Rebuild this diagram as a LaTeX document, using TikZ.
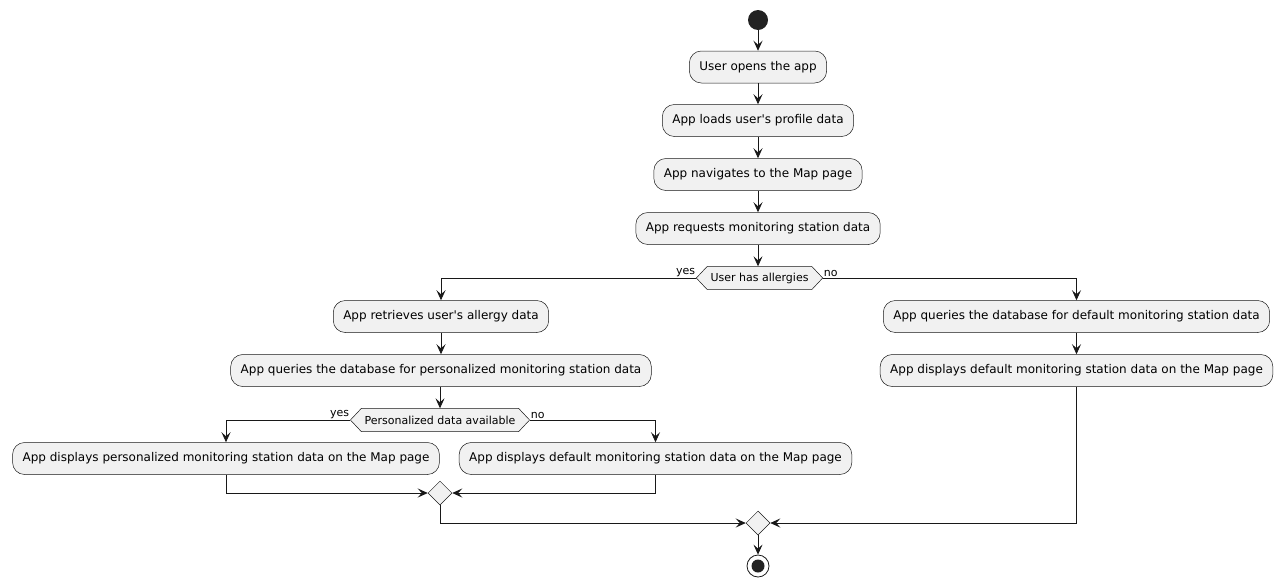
\documentclass[tikz,border=0pt]{standalone}
\usepackage{fontspec}
\setmainfont{DejaVu Sans}[Ligatures=TeXOff]
\usetikzlibrary{arrows.meta,shapes.geometric}
\definecolor{boxfill}{HTML}{F1F1F1}
\definecolor{lineclr}{HTML}{181818}
\definecolor{dotclr}{HTML}{222222}
\begin{document}
\begin{tikzpicture}[x=1pt,y=-1pt,
  act/.style={draw=lineclr,fill=boxfill,rounded corners=12pt,minimum height=32pt,inner xsep=10pt,inner ysep=0pt,font=\fontsize{12}{14}\selectfont,line width=0.5pt},
  dec/.style={minimum height=23pt,inner xsep=14pt,inner ysep=0pt,font=\fontsize{11}{13}\selectfont},
  hexa/.style={draw=lineclr,fill=boxfill,line width=0.5pt},
  merge/.style={draw=lineclr,fill=boxfill,diamond,minimum width=24pt,minimum height=24pt,inner sep=0pt,line width=0.5pt},
  lbl/.style={font=\fontsize{11}{13}\selectfont,inner sep=1pt},
  arr/.style={draw=lineclr,line width=0.8pt,-{Stealth[length=10pt,width=9pt,inset=4pt]}},
  ln/.style={draw=lineclr,line width=0.8pt}]
\useasboundingbox (0,0) rectangle (1282,587);
\node[circle,fill=dotclr,minimum size=20pt,inner sep=0pt] (start) at (758,20) {};
\node[act] (b1) at (758,67) {User opens the app};
\node[act] (b2) at (758,120.5) {App loads user's profile data};
\node[act] (b3) at (758,174.5) {App navigates to the Map page};
\node[act] (b4) at (758,228.5) {App requests monitoring station data};
\node[dec] (d1) at (759.5,278) {User has allergies};
\draw[hexa] (d1.west) -- ([xshift=11pt]d1.north west) -- ([xshift=-11pt]d1.north east) -- (d1.east) -- ([xshift=-11pt]d1.south east) -- ([xshift=11pt]d1.south west) -- cycle;
\node at (d1) [dec] {User has allergies};
\node[act] (b5) at (441,316.5) {App retrieves user's allergy data};
\node[act] (b6) at (441,370.5) {App queries the database for personalized monitoring station data};
\node[dec] (d2) at (440,420) {Personalized data available};
\draw[hexa] (d2.west) -- ([xshift=11pt]d2.north west) -- ([xshift=-11pt]d2.north east) -- (d2.east) -- ([xshift=-11pt]d2.south east) -- ([xshift=11pt]d2.south west) -- cycle;
\node at (d2) [dec] {Personalized data available};
\node[act] (b7) at (226,458.5) {App displays personalized monitoring station data on the Map page};
\node[act] (b8) at (655.5,458.5) {App displays default monitoring station data on the Map page};
\node[act] (b9) at (1076.5,316.5) {App queries the database for default monitoring station data};
\node[act] (b10) at (1076.5,370.5) {App displays default monitoring station data on the Map page};
\node[merge] (m2) at (440,493) {};
\node[merge] (m1) at (758,523) {};
\node[circle,draw=lineclr,line width=0.8pt,minimum size=22pt,inner sep=0pt] (end) at (758,566) {};
\node[circle,fill=dotclr,minimum size=13pt,inner sep=0pt] at (end) {};
\node[lbl,anchor=south east] at (d1.west) {yes};
\node[lbl,anchor=south west] at (d1.east) {no};
\node[lbl,anchor=south east] at (d2.west) {yes};
\node[lbl,anchor=south west] at (d2.east) {no};
\draw[arr] (start) -- (b1);
\draw[arr] (b1) -- (b2);
\draw[arr] (b2) -- (b3);
\draw[arr] (b3) -- (b4);
\draw[arr] (b4.south) -- (b4.south |- d1.north);
\draw[arr] (d1.west) -| (b5.north);
\draw[arr] (d1.east) -| (b9.north);
\draw[arr] (b5) -- (b6);
\draw[arr] (b6.south -| d2.north) -- (d2.north);
\draw[arr] (d2.west) -| (b7.north);
\draw[arr] (d2.east) -| (b8.north);
\draw[arr] (b9) -- (b10);
\draw[arr] (b7.south) |- (m2.west);
\draw[arr] (b8.south) |- (m2.east);
\draw[arr] (m2.south) |- (m1.west);
\draw[arr] (b10.south) |- (m1.east);
\draw[arr] (m1.south) -- (end.north);
\end{tikzpicture}
\end{document}
